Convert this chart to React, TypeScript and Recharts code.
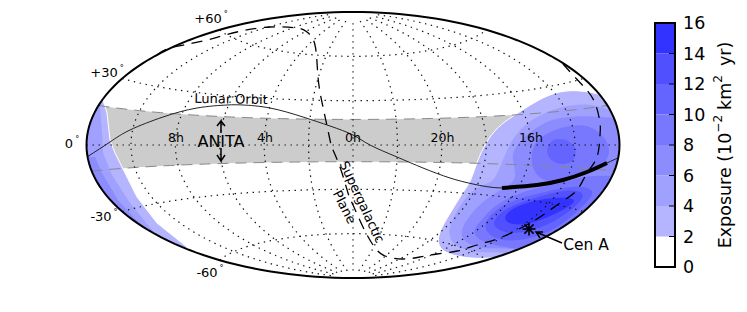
import React from 'react';
import { BarChart, Bar, ScatterChart, Scatter, XAxis, YAxis } from 'recharts';

type Pt = [number, number];

const WIDTH = 747;
const HEIGHT = 312;
const FONT = '"DejaVu Sans", sans-serif';

// sky grid
const HOUR_LINES = [-10, -8, -6, -4, -2, 0, 2, 4, 6, 8, 10];
const DEC_LINES = [-60, -30, 0, 30, 60];
const BAND_TOP_DEC = 17.3;
const BAND_BOTTOM_DEC = -11.3;

const lunarOrbit: Pt[] = [
  [-266, -12], [-243, 3], [-223, 15], [-190, 28], [-156, 37], [-126, 40], [-110, 40], [-83, 37], [-50, 28],
  [-23, 19], [0, 10], [17, 0], [44, -12], [70, -23], [97, -33], [120, -39], [149, -43], [184, -40], [210, -35],
  [234, -27], [254, -18], [265, -13],
];
const lunarExposed: Pt[] = [[149, -43], [184, -40], [210, -35], [234, -27], [254, -18]];
const supergalacticPlane: Pt[] = [
  [-196, 90], [-183, 97], [-150, 104], [-116, 113], [-83, 118], [-56, 117], [-46, 113], [-38, 100], [-35, 68],
  [-30, 38], [-23, 5], [-20, -5], [-12, -25], [-5, -48], [0, -60], [9, -80], [20, -100], [32, -111], [50, -114],
  [67, -112], [84, -109], [104, -106], [124, -100], [144, -94], [164, -85], [187, -72], [207, -58], [224, -45],
  [234, -28], [244, -12], [247, 10], [247, 22], [242, 42], [232, 57], [220, 70], [210, 81],
];

// exposure contours, outer level first
const rightL1: Pt[] = [
  [220, 55], [237, 53], [249, 50], [277, 45], [287, -45], [207, -100], [172, -113], [144, -112], [127, -114],
  [105, -112], [88, -106], [84, -96], [88, -83], [98, -67], [110, -47], [117, -38], [122, -23], [128, -7],
  [138, 11], [152, 24], [168, 34], [185, 45], [203, 53],
];
const rightL2: Pt[] = [
  [237, 41], [250, 37], [280, 30], [285, -45], [210, -105], [170, -114], [157, -107], [134, -108], [108, -105],
  [96, -95], [96, -80], [108, -59], [118, -46], [130, -40], [140, -37], [145, -27], [152, -10], [158, 4],
  [170, 19], [186, 30], [204, 37], [220, 40],
];
const rightL3: Pt[] = [
  [234, 29], [250, 28], [285, 25], [285, -50], [215, -100], [190, -108], [157, -103], [137, -104], [117, -101],
  [107, -92], [110, -79], [125, -60], [146, -45], [166, -36], [158, -13], [162, -2], [175, 12], [194, 24], [210, 28],
];
const rightL4Upper: Pt[] = [
  [237, 20], [252, 8], [258, -5], [252, -21], [222, -35], [192, -38], [181, -28], [177, -12], [182, 5], [200, 15], [220, 20],
];
const rightL4Lower: Pt[] = [
  [234, -31], [247, -31], [275, -30], [260, -80], [200, -108], [134, -101], [117, -88], [128, -76], [138, -63],
  [160, -50], [184, -43], [217, -36],
];
const rightL5Upper: Pt[] = [[205, 7], [219, 4], [225, -9], [217, -20], [201, -19], [192, -8], [197, 4]];
const rightL5Lower: Pt[] = [
  [222, -40], [242, -44], [238, -54], [209, -81], [184, -92], [158, -97], [138, -93], [129, -80], [141, -65],
  [162, -54], [192, -47],
];
const rightL6: Pt[] = [
  [219, -44], [232, -48], [228, -58], [199, -79], [174, -87], [152, -89], [137, -80], [147, -67], [165, -58], [194, -49],
];
const rightL7: Pt[] = [
  [220, -52], [224, -58], [192, -74], [170, -81], [151, -78], [152, -68], [168, -59], [194, -53],
];
const leftL1: Pt[] = [
  [-250, 45], [-246, 32], [-243, 5], [-238, -8], [-231, -22], [-216, -52], [-196, -78], [-166, -102],
  [-175, -125], [-290, -40], [-290, 40], [-252, 60],
];
const leftL2: Pt[] = [
  [-253, 38], [-251, 12], [-250, -8], [-241, -30], [-223, -58], [-201, -85], [-185, -98], [-190, -125], [-290, -40], [-290, 38],
];
const leftL3: Pt[] = [[-258, -12], [-251, -28], [-235, -55], [-215, -77], [-198, -92], [-205, -125], [-290, -12]];
const leftL4: Pt[] = [[-263, -22], [-256, -35], [-243, -55], [-225, -75], [-210, -85], [-220, -120], [-290, -22]];
const leftL5: Pt[] = [[-261, -38], [-250, -55], [-236, -68], [-223, -78], [-235, -110], [-290, -38]];

// colorbar
const levels = [2, 2, 2, 2, 2, 2, 2, 2];
const levelColors = ['#ffffff', '#b4b4ff', '#a0a0ff', '#8c8cff', '#7878ff', '#6464ff', '#5050ff', '#3333ff'];
const colorbarTicks = [0, 2, 4, 6, 8, 10, 12, 14, 16];
const colorbarFrame: Pt[] = [[302, 122], [322, 122], [322, -122], [302, -122]];

// labels
const decLabels: [string, number, number][] = [
  ['+60', -142, 127], ['+30', -246, 73], ['0', -281, 2], ['-30', -249, -71], ['-60', -143, -127],
];
const hourLabels: [string, number, number][] = [
  ['8h', -177, 8], ['4h', -88, 8], ['0h', 0, 8], ['20h', 89.5, 8], ['16h', 178, 8],
];
const freeLabels: [string, number, number, number, number][] = [
  ['ANITA', -132, 4, 16, 0],
  ['Lunar Orbit', -122, 46, 13, 1],
  ['Supergalactic', 9, -57, 13, 65],
  ['Plane', -8.5, -62, 13, 63],
  ['Cen A', 233, -100, 15.5, 0],
];
const anitaUp: Pt[] = [[-132, 12], [-132, 24], [-136, 19], [-132, 24], [-128, 19]];
const anitaDown: Pt[] = [[-132, -3], [-132, -16], [-136, -10], [-132, -16], [-128, -10]];
const cenAArrow: Pt[] = [[209, -98], [183, -87], [190, -87], [183, -87], [187, -93]];
const cenA: Pt[] = [[176, -84]];

const aitoff = (lonDeg: number, latDeg: number) => {
  const l = (lonDeg * Math.PI) / 360;
  const p = (latDeg * Math.PI) / 180;
  const a = Math.acos(Math.cos(p) * Math.cos(l));
  const s = a < 1e-6 ? 1 : Math.sin(a) / a;
  return {
    x: ((2 * Math.cos(p) * Math.sin(l)) / s / Math.PI) * 266.5,
    y: (Math.sin(p) / s / (Math.PI / 2)) * 133,
  };
};
const steps = (from: number, to: number, n: number) =>
  Array.from({ length: n + 1 }, (_, i) => from + ((to - from) * i) / n);
const parallel = (dec: number) => steps(-180, 180, 72).map((lon) => aitoff(lon, dec));
const meridian = (hour: number) => steps(-85, 85, 60).map((dec) => aitoff(hour * 15, dec));
const toRows = (pts: Pt[]) => pts.map(([x, y]) => ({ x, y }));

const border = [
  ...steps(-90, 90, 90).map((d) => aitoff(180, d)),
  ...steps(90, -90, 90).map((d) => aitoff(-180, d)),
];
const bandOutline = [...parallel(BAND_TOP_DEC), ...parallel(BAND_BOTTOM_DEC).reverse()];

const NoDot = () => <g />;

const polyline = (key: string, data: { x: number; y: number }[], line: any, joint: any = 'linear') => (
  <Scatter key={key} data={data} shape={NoDot} line={line} lineJointType={joint} isAnimationActive={false} />
);

const Axes = () => (
  <>
    <XAxis type="number" dataKey="x" domain={[-353, 394]} hide />
    <YAxis type="number" dataKey="y" domain={[-167, 145]} hide />
  </>
);

const DecText = (props: any) => (
  <text x={props.cx} y={props.cy} textAnchor="middle" dominantBaseline="central" fontFamily={FONT} fontSize={13} fill="#000">
    {props.payload.text}
    <tspan fontSize={8} dx={2} dy={-4}>°</tspan>
  </text>
);

const PlainText = (props: any) => {
  const { text, size, angle } = props.payload;
  return (
    <text
      x={props.cx}
      y={props.cy}
      textAnchor="middle"
      dominantBaseline="central"
      fontFamily={FONT}
      fontSize={size}
      fill="#000"
      transform={angle ? `rotate(${angle} ${props.cx} ${props.cy})` : undefined}
    >
      {text}
    </text>
  );
};

const ColorbarTitle = (props: any) => (
  <text
    x={props.cx}
    y={props.cy}
    textAnchor="middle"
    dominantBaseline="central"
    fontFamily={FONT}
    fontSize={17.5}
    fill="#000"
    transform={`rotate(-90 ${props.cx} ${props.cy})`}
  >
    Exposure (10
    <tspan fontSize={12} dy={-7}>−2</tspan>
    <tspan dy={7} dx={5}>km</tspan>
    <tspan fontSize={12} dy={-7}>2</tspan>
    <tspan dy={7} dx={9}>yr)</tspan>
  </text>
);

const CenAStar = (props: any) => {
  const { cx, cy } = props;
  return (
    <g stroke="#000" strokeWidth={1.6}>
      {[0, 45, 90, 135].map((a) => (
        <line key={a} x1={cx - 6.5} y1={cy} x2={cx + 6.5} y2={cy} transform={`rotate(${a} ${cx} ${cy})`} />
      ))}
    </g>
  );
};

const ColorbarTick = (props: any) => {
  const { y, payload } = props;
  return (
    <g>
      <line x1={14} x2={20} y1={y} y2={y} stroke="#000" strokeWidth={1} />
      <text x={28} y={y} dominantBaseline="central" fontFamily={FONT} fontSize={17.5} fill="#000">
        {payload.value}
      </text>
    </g>
  );
};

const colorbarRow = [Object.fromEntries(levels.map((v, i) => [`l${i}`, v]))];

const layer: React.CSSProperties = { position: 'absolute', left: 0, top: 0 };

const contour = (key: string, pts: Pt[], fill: string, joint: string, stroke = 'none') =>
  polyline(key, toRows(pts), { fill, stroke, strokeWidth: 1 }, joint);

const gridLine = { stroke: '#111', strokeWidth: 1.2, strokeDasharray: '1.4 4.6' };
const bandEdge = { stroke: '#888', strokeWidth: 1, strokeDasharray: '11 7' };

export default function App() {
  return (
    <div style={{ ...layer, width: WIDTH, height: HEIGHT, background: '#fff' }}>
      {/* filled parts, trimmed to the map outline */}
      <div style={{ ...layer, clipPath: 'ellipse(266.5px 133px at 353px 145px)' }}>
        <ScatterChart width={WIDTH} height={HEIGHT} margin={{ top: 0, right: 0, bottom: 0, left: 0 }}>
          {Axes()}
          {polyline('band', bandOutline, { fill: '#cccccc', stroke: 'none' })}
          {contour('r1', rightL1, levelColors[1], 'basisClosed', '#ffffff')}
          {contour('r2', rightL2, levelColors[2], 'basisClosed')}
          {contour('r3', rightL3, levelColors[3], 'basisClosed')}
          {contour('r4u', rightL4Upper, levelColors[4], 'basisClosed')}
          {contour('r4l', rightL4Lower, levelColors[4], 'basisClosed')}
          {contour('r5u', rightL5Upper, levelColors[5], 'basisClosed')}
          {contour('r5l', rightL5Lower, levelColors[5], 'basisClosed')}
          {contour('r6', rightL6, levelColors[6], 'basisClosed')}
          {contour('r7', rightL7, levelColors[7], 'basisClosed')}
          {contour('l1', leftL1, levelColors[1], 'linearClosed', '#ffffff')}
          {contour('l2', leftL2, levelColors[2], 'linearClosed')}
          {contour('l3', leftL3, levelColors[3], 'linearClosed')}
          {contour('l4', leftL4, levelColors[4], 'linearClosed')}
          {contour('l5', leftL5, levelColors[5], 'linearClosed')}
        </ScatterChart>
      </div>

      {/* colorbar */}
      <div style={{ ...layer, left: 655 }}>
        <BarChart
          width={92}
          height={HEIGHT}
          data={colorbarRow}
          barCategoryGap={0}
          margin={{ top: 23, right: 0, bottom: 45, left: 0 }}
        >
          <XAxis hide />
          <YAxis
            orientation="right"
            width={72}
            domain={[0, 16]}
            ticks={colorbarTicks}
            interval={0}
            axisLine={false}
            tickLine={false}
            tick={ColorbarTick}
          />
          {levels.map((_, i) => (
            <Bar key={i} dataKey={`l${i}`} stackId="exposure" fill={levelColors[i]} isAnimationActive={false} />
          ))}
        </BarChart>
      </div>

      {/* lines and text on top */}
      <div style={layer}>
        <ScatterChart width={WIDTH} height={HEIGHT} margin={{ top: 0, right: 0, bottom: 0, left: 0 }}>
          {Axes()}
          {polyline('band-top', parallel(BAND_TOP_DEC), bandEdge)}
          {polyline('band-bottom', parallel(BAND_BOTTOM_DEC), bandEdge)}
          {DEC_LINES.map((d) => polyline(`dec${d}`, parallel(d), gridLine))}
          {HOUR_LINES.map((h) => polyline(`hour${h}`, meridian(h), gridLine))}
          {polyline('lunar', toRows(lunarOrbit), { stroke: '#222', strokeWidth: 1 }, 'natural')}
          {polyline('exposed', toRows(lunarExposed), { stroke: '#000', strokeWidth: 4 }, 'natural')}
          {polyline('sgp', toRows(supergalacticPlane), { stroke: '#000', strokeWidth: 1.3, strokeDasharray: '11 7.5' }, 'natural')}
          {polyline('frame', border, { stroke: '#000', strokeWidth: 2 })}
          {polyline('bar-frame', toRows(colorbarFrame), { stroke: '#000', strokeWidth: 2 }, 'linearClosed')}
          {polyline('up', toRows(anitaUp), { stroke: '#000', strokeWidth: 1.5 })}
          {polyline('down', toRows(anitaDown), { stroke: '#000', strokeWidth: 1.5 })}
          {polyline('cen-arrow', toRows(cenAArrow), { stroke: '#000', strokeWidth: 1.5 })}
          <Scatter data={toRows(cenA)} shape={CenAStar} isAnimationActive={false} />
          <Scatter
            data={decLabels.map(([text, x, y]) => ({ text, x, y }))}
            shape={DecText}
            isAnimationActive={false}
          />
          <Scatter
            data={hourLabels.map(([text, x, y]) => ({ text, x, y, size: 12.5, angle: 0 }))}
            shape={PlainText}
            isAnimationActive={false}
          />
          <Scatter
            data={freeLabels.map(([text, x, y, size, angle]) => ({ text, x, y, size, angle }))}
            shape={PlainText}
            isAnimationActive={false}
          />
          <Scatter data={[{ x: 372, y: 0 }]} shape={ColorbarTitle} isAnimationActive={false} />
        </ScatterChart>
      </div>
    </div>
  );
}
